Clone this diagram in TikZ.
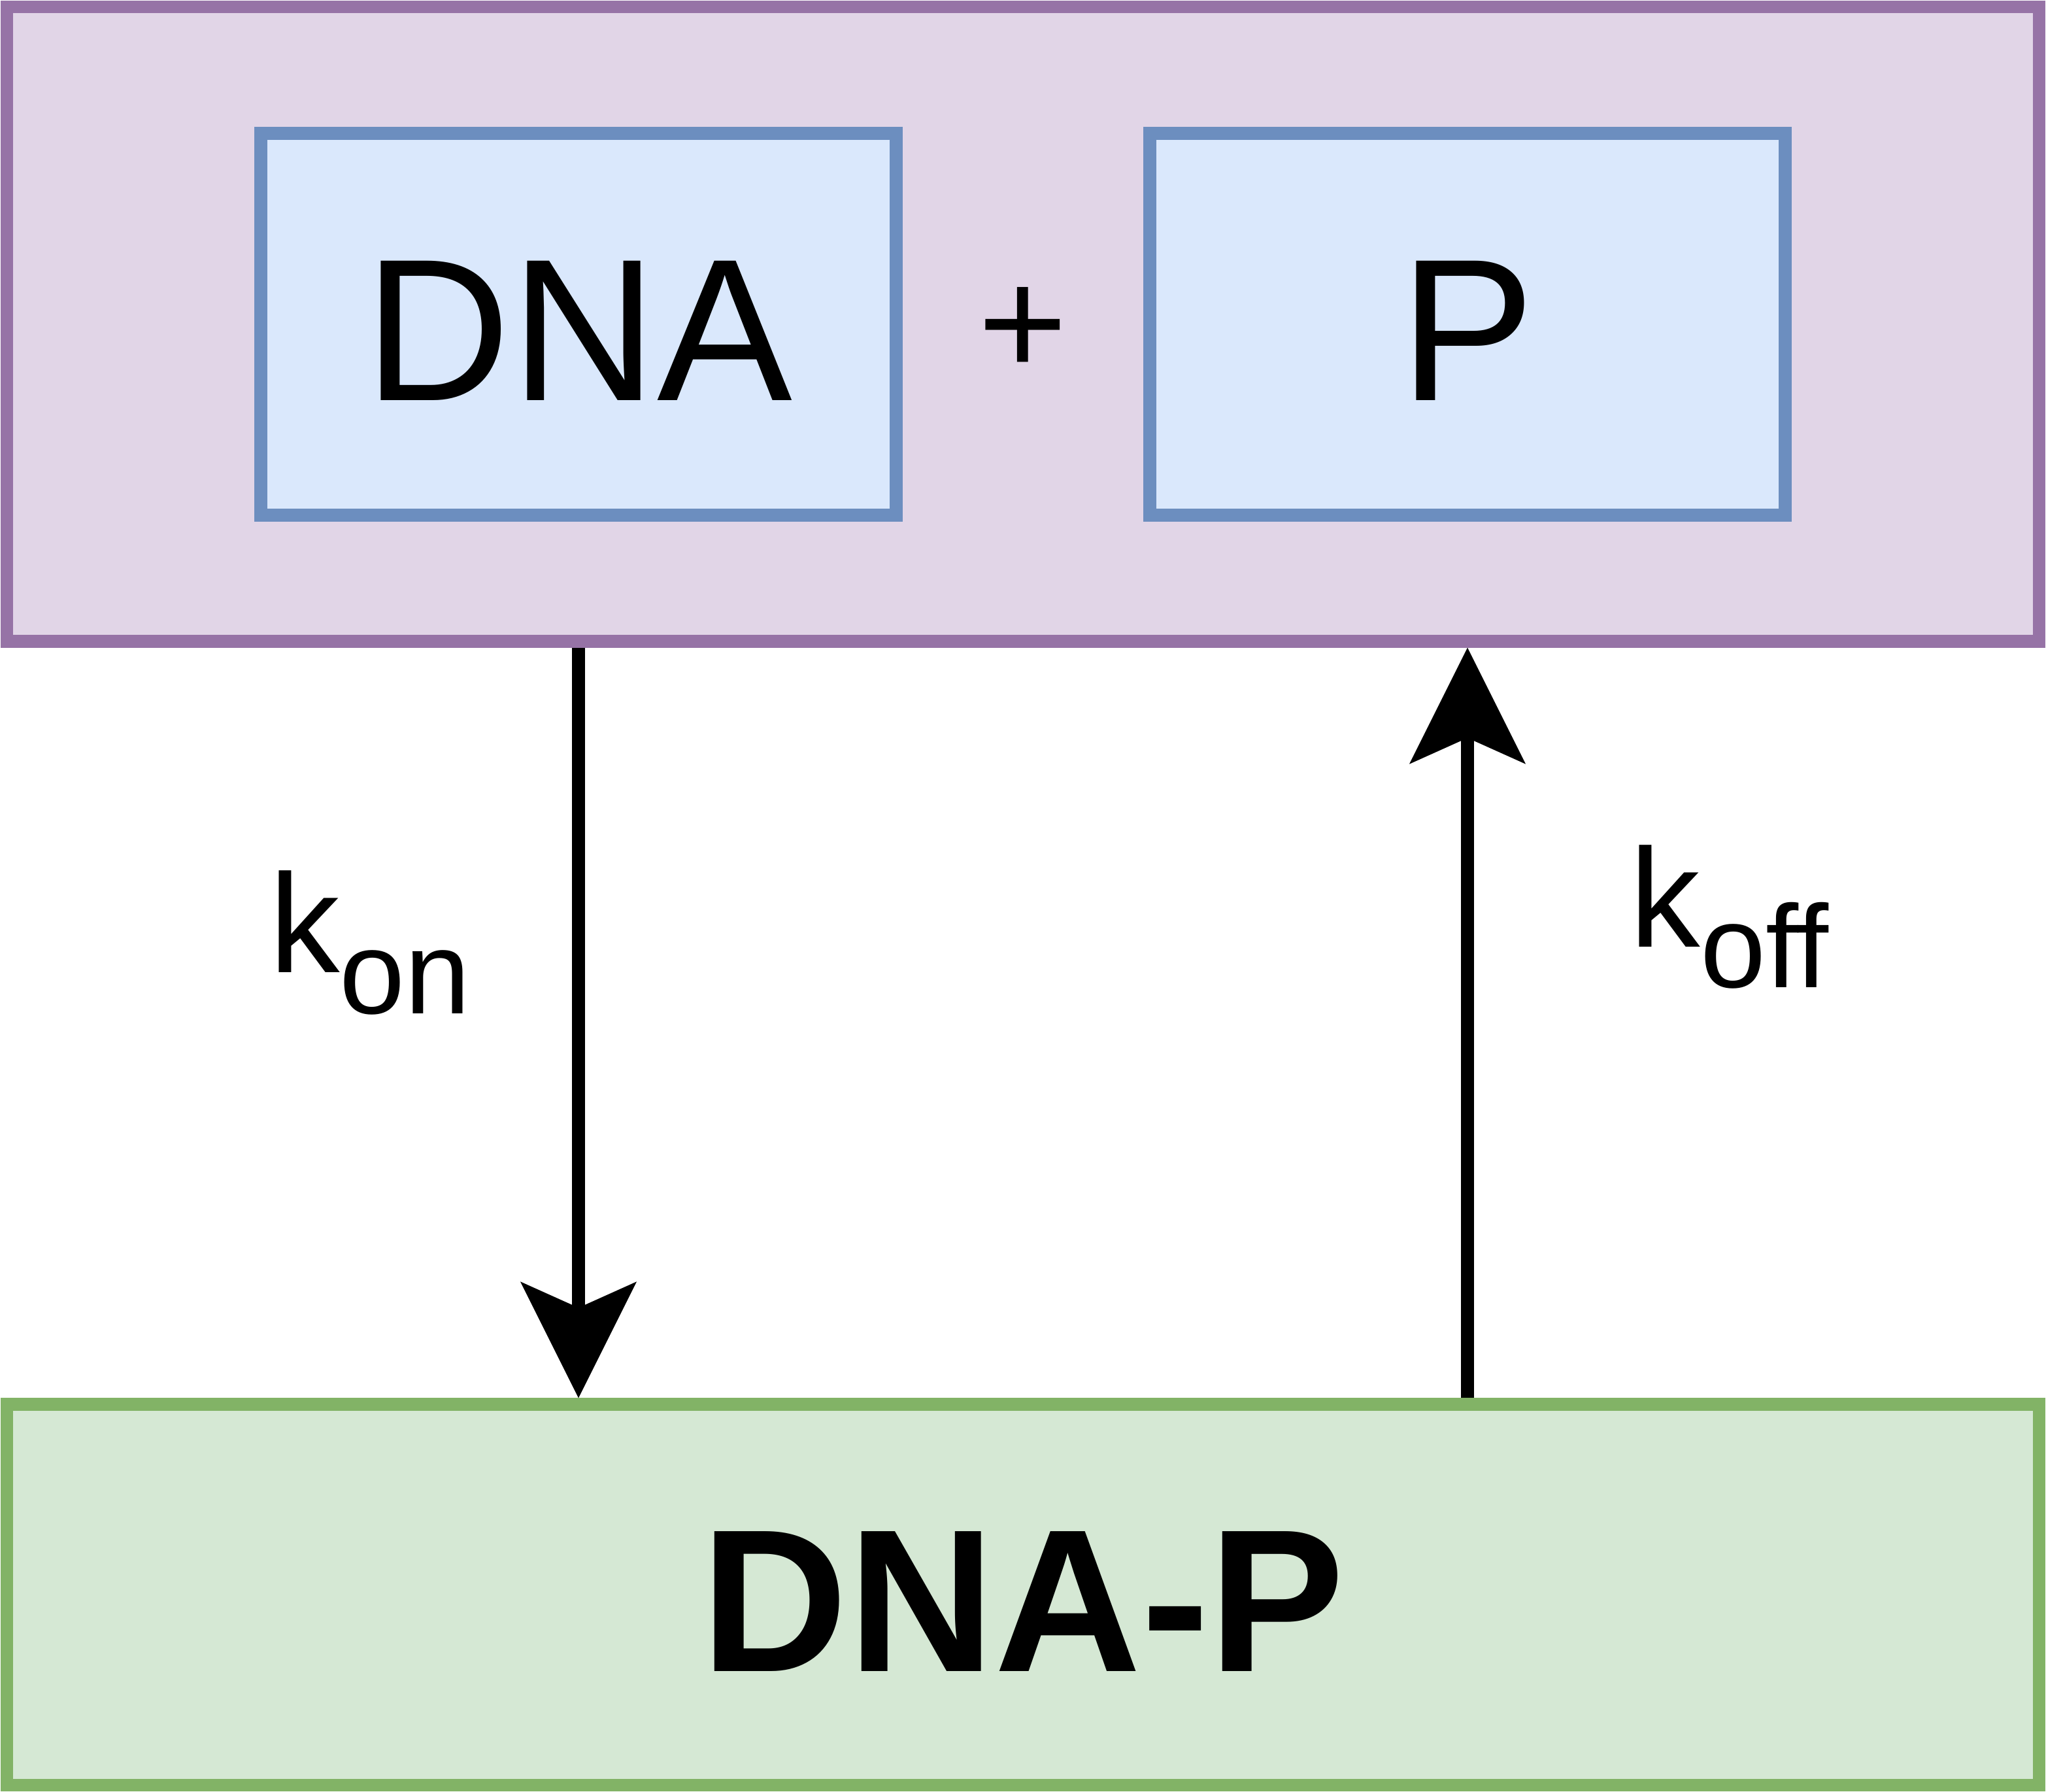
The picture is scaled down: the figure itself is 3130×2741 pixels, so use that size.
\documentclass[tikz,border=0pt]{standalone}
\usepackage{fontspec}
\setmainfont{Liberation Sans}
\usetikzlibrary{arrows.meta}
\definecolor{purpfill}{HTML}{E1D5E7}
\definecolor{purpdraw}{HTML}{9673A6}
\definecolor{bluefill}{HTML}{DAE8FC}
\definecolor{bluedraw}{HTML}{6C8EBF}
\definecolor{greenfill}{HTML}{D5E8D4}
\definecolor{greendraw}{HTML}{82B366}
\begin{document}
\begin{tikzpicture}[x=0.25pt,y=-0.25pt,
  box/.style={draw, line width=4.85pt, inner sep=0pt, text depth=0pt},
  bigtext/.style={font=\fontsize{77.5pt}{93pt}\selectfont},
  flow/.style={line width=4.83pt, -{Stealth[length=44.5pt,width=44.5pt,inset=10pt,line width=0pt]}},
  rate/.style={anchor=base west, inner sep=0pt, font=\fontsize{53.75pt}{64pt}\selectfont}]
\useasboundingbox[fill=white] (0,0) rectangle (3130,2741);
\node[box, fill=purpfill, draw=purpdraw, minimum width=777.25pt, minimum height=242.625pt] (mix) at (1565,495.75) {};
\node[box, bigtext, text height=58.2pt, fill=bluefill, draw=bluedraw, minimum width=243pt, minimum height=146pt] (dna) at (885,496) {DNA};
\node[box, bigtext, text height=58.2pt, fill=bluefill, draw=bluedraw, minimum width=243pt, minimum height=146pt] (prot) at (2245,496) {P};
\node[anchor=base, inner sep=0pt, font=\fontsize{58.5pt}{70pt}\selectfont] (plus) at (1565,574) {+};
\node[box, font=\fontsize{77.75pt}{93pt}\selectfont\bfseries, text height=58.4pt, fill=greenfill, draw=greendraw, minimum width=777.25pt, minimum height=145.625pt] (cplx) at (1565,2439.25) {DNA-P};
\draw[flow] (mix.south -| dna.center) -- (cplx.north -| dna.center);
\draw[flow] (cplx.north -| prot.center) -- (mix.south -| prot.center);
\node[rate] (kon) at (411.6,1487) {k\raisebox{-15.75pt}{\fontsize{45pt}{54pt}\selectfont on}};
\node[rate] (koff) at (2492.7,1448) {k\raisebox{-15.5pt}{\fontsize{45pt}{54pt}\selectfont off}};
\end{tikzpicture}
\end{document}
